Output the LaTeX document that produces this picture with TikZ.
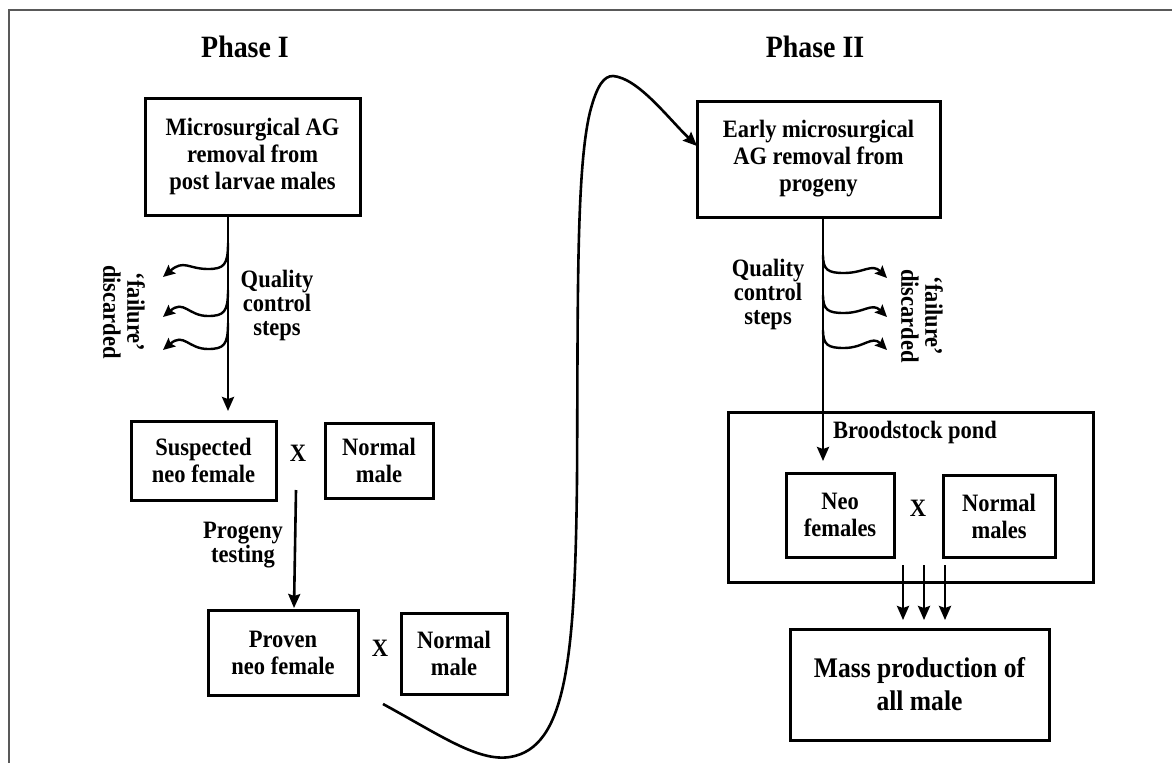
\documentclass[tikz,border=0pt]{standalone}
\usepackage{fontspec}
\setmainfont{Liberation Serif}[FakeStretch=0.9]
\usetikzlibrary{arrows.meta}
\begin{document}
\begin{tikzpicture}[x=1pt,y=-1pt,
  box/.style={draw, line width=3pt, align=center, inner sep=0pt,
    font=\bfseries\fontsize{25}{27}\selectfont},
  lbl/.style={align=center, inner sep=0pt, font=\bfseries\fontsize{25}{24}\selectfont},
  ttl/.style={inner sep=0pt, font=\bfseries\fontsize{31}{32}\selectfont},
  arr/.style={line width=2.6pt, -{Stealth[length=14pt,width=12pt,inset=2pt]}},
  wav/.style={line width=2.4pt, -{Stealth[length=12pt,width=11pt,inset=2pt]}},
]
\useasboundingbox (0,0) rectangle (1172,763);
% frame
\draw[line width=1.6pt, black!65] (1172,10) -- (9,10) -- (9,763);

% titles
\node[ttl] (ph1) at (245,47) {Phase I};
\node[ttl] (ph2) at (815,47) {Phase II};

% Phase I boxes
\node[box, minimum width=215, minimum height=117] (b1) at (252.5,156.5)
  {Microsurgical AG\\removal from\\post larvae males};
\node[box, minimum width=145, minimum height=79] (susp) at (203.5,460.5)
  {Suspected\\neo female};
\node[lbl] (x1) at (298,453) {X};
\node[box, minimum width=108, minimum height=75] (nm1) at (379,460.5)
  {Normal\\male};
\node[box, minimum width=150, minimum height=85] (prov) at (283,652.5)
  {Proven\\neo female};
\node[lbl] (x2) at (380,648) {X};
\node[box, minimum width=106, minimum height=81] (nm2) at (454,653.5)
  {Normal\\male};

% Phase I labels
\node[lbl] (qc1) at (277,305) {Quality\\control\\steps};
\node[lbl, rotate=-90] (fd1) at (124,312) {`failure'\\discarded};
\node[lbl] (pt) at (243,545) {Progeny\\testing};

% Phase I arrows
\coordinate (a1s) at (228,215);
\coordinate (a1e) at (228,411);
\draw[arr] (a1s) -- (a1e);
\foreach \i/\y/\d in {1/243/34, 2/290/27, 3/323/27}{
  \coordinate (ws\i) at (228,\y);
  \coordinate (we\i) at (163,\y+\d);
  \draw[wav] (ws\i) .. controls (228,\y+22) and (224,\y+26) .. (208,\y+26)
     .. controls (188,\y+26) and (184,\y+\d-18) .. (we\i);
}
\coordinate (pts) at (296,490);
\coordinate (pte) at (294,608);
\draw[arr] (pts) -- (pte);

% big connecting curve
\coordinate (cs) at (383,704);
\coordinate (ce) at (697,146);
\draw[arr] (cs) .. controls (440,735) and (478,762) .. (510,757)
  .. controls (566,748) and (575,660) .. (577,480)
  .. controls (578,300) and (576,170) .. (590,112)
  .. controls (597,85) and (604,76) .. (613,76)
  .. controls (638,78) and (668,118) .. (ce);

% Phase II boxes
\node[box, minimum width=243, minimum height=116] (b2) at (818.5,159)
  {Early microsurgical\\AG removal from\\progeny};
\node[draw, line width=3pt, minimum width=365, minimum height=170, inner sep=0pt] (pond) at (910.5,497) {};
\node[lbl] (pl) at (915,432) {Broodstock pond};
\node[box, minimum width=108, minimum height=84] (neo) at (840,515)
  {Neo\\females};
\node[lbl] (x3) at (918,508) {X};
\node[box, minimum width=112, minimum height=82] (nms) at (999,516)
  {Normal\\males};
\node[box, minimum width=259, minimum height=111,
  font=\bfseries\fontsize{28.4}{33}\selectfont] (mass) at (919.5,684.5)
  {Mass production of\\all male};

% Phase II labels
\node[lbl] (qc2) at (768,294) {Quality\\control\\steps};
\node[lbl, rotate=-90] (fd2) at (922,316) {`failure'\\discarded};

% Phase II arrows
\coordinate (a2s) at (823,217);
\coordinate (a2e) at (823,461);
\draw[arr] (a2s) -- (a2e);
\foreach \i/\y/\d in {1/255/23, 2/295/22, 3/330/20}{
  \coordinate (vs\i) at (823,\y);
  \coordinate (ve\i) at (887,\y+\d);
  \draw[wav] (vs\i) .. controls (823,\y+15) and (828,\y+18) .. (844,\y+18)
     .. controls (864,\y+18) and (872,\y+\d-15) .. (ve\i);
}
\foreach \i/\x in {1/903, 2/924, 3/945}{
  \coordinate (ms\i) at (\x,565);
  \coordinate (me\i) at (\x,620);
  \draw[arr] (ms\i) -- (me\i);
}
\end{tikzpicture}
\end{document}
